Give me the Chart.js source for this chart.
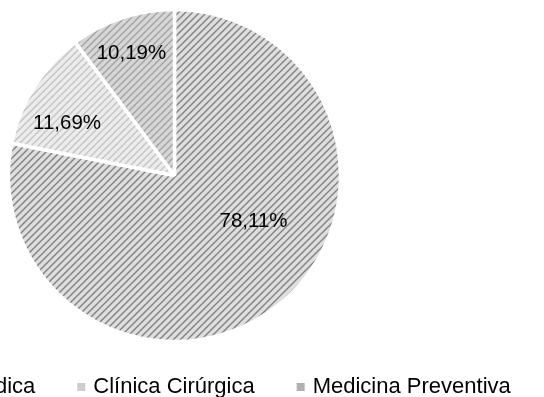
<!DOCTYPE html>
<html lang="pt">
<head>
<meta charset="utf-8">
<title>Distribuição por área</title>
<script src="https://cdn.jsdelivr.net/npm/chart.js@4/dist/chart.umd.min.js"></script>
<style>
  html, body { margin: 0; padding: 0; background: #fff; }
  #wrap { position: relative; width: 544px; height: 397px; overflow: hidden; background: #fff; }
  #chart { position: absolute; left: -180px; top: 0; }
</style>
</head>
<body>
<div id="wrap"><canvas id="chart" width="900" height="397"></canvas></div>
<script>
// Categories and their shares (%)
const categories = ['Clínica Médica', 'Clínica Cirúrgica', 'Medicina Preventiva'];
const shares = [78.11, 11.69, 10.19];

// Hatch fills: light ground with upward diagonal stripes
const hatchGround = ['#dedede', '#ececec', '#d6d6d6'];
const hatchStripe = ['#808080', '#c4c4c4', '#a2a2a2'];
// Flat tones for the small legend swatches
const swatchTone = ['#a8a8a8', '#cdcdcd', '#b0b0b0'];

function makeHatch(ground, stripe) {
  const s = 7;
  const c = document.createElement('canvas');
  c.width = s; c.height = s;
  const g = c.getContext('2d');
  g.fillStyle = ground;
  g.fillRect(0, 0, s, s);
  g.strokeStyle = stripe;
  g.lineWidth = 1.4;
  g.beginPath();
  g.moveTo(-1, s + 1); g.lineTo(s + 1, -1);
  g.moveTo(-1, 1); g.lineTo(1, -1);
  g.moveTo(s - 1, s + 1); g.lineTo(s + 1, s - 1);
  g.stroke();
  return g.createPattern(c, 'repeat');
}

const fills = hatchGround.map((gr, i) => makeHatch(gr, hatchStripe[i]));

// Moves the pie sideways inside the plot area
const pieShift = {
  id: 'pieShift',
  afterLayout(chart, args, opts) {
    chart.chartArea.left += opts.dx;
    chart.chartArea.right += opts.dx;
  }
};

// Percentage labels inside each slice
const sliceLabels = {
  id: 'sliceLabels',
  afterDatasetsDraw(chart, args, opts) {
    const ctx = chart.ctx;
    const meta = chart.getDatasetMeta(0);
    const values = chart.data.datasets[0].data;
    ctx.save();
    ctx.font = opts.font;
    ctx.fillStyle = opts.color;
    ctx.textAlign = 'center';
    ctx.textBaseline = 'middle';
    meta.data.forEach((arc, i) => {
      const p = arc.getProps(['x', 'y', 'startAngle', 'endAngle', 'outerRadius'], true);
      const place = opts.place[i];
      const a = p.startAngle + place.at * (p.endAngle - p.startAngle);
      const r = p.outerRadius * place.r;
      const txt = values[i].toFixed(2).replace('.', ',') + '%';
      ctx.fillText(txt, p.x + Math.cos(a) * r, p.y + Math.sin(a) * r);
    });
    ctx.restore();
  }
};

new Chart(document.getElementById('chart'), {
  type: 'pie',
  data: {
    labels: categories,
    datasets: [{
      data: shares,
      backgroundColor: fills,
      borderColor: '#ffffff',
      borderWidth: 3.5,
      radius: 166
    }]
  },
  options: {
    responsive: false,
    animation: false,
    events: [],
    layout: { padding: { left: 13, right: 0, top: 20, bottom: -11 } },
    plugins: {
      tooltip: { enabled: false },
      pieShift: { dx: -102 },
      sliceLabels: {
        font: '20.5px "Liberation Sans", Arial, sans-serif',
        color: '#000000',
        place: [{ at: 0.427, r: 0.55 }, { at: 0.35, r: 0.72 }, { at: 0.47, r: 0.78 }]
      },
      legend: {
        position: 'bottom',
        align: 'start',
        labels: {
          font: { family: '"Liberation Sans", Arial, sans-serif', size: 22 },
          color: '#000000',
          usePointStyle: true,
          pointStyle: 'rect',
          boxWidth: 2,
          boxHeight: 8,
          padding: 45,
          generateLabels(chart) {
            return chart.data.labels.map((text, i) => ({
              text,
              fillStyle: swatchTone[i],
              strokeStyle: 'rgba(0,0,0,0)',
              lineWidth: 0,
              pointStyle: 'rect',
              hidden: false,
              index: i
            }));
          }
        }
      }
    }
  },
  plugins: [pieShift, sliceLabels]
});
</script>
</body>
</html>
